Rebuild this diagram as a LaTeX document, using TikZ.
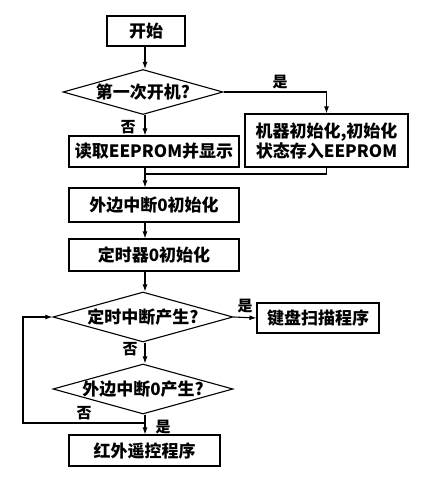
\documentclass[tikz,border=0pt]{standalone}
\usepackage{fontspec}
\setmainfont{Noto Sans CJK SC}
\usetikzlibrary{shapes.geometric,arrows.meta}
\tikzstyle{proc}=[draw,shape=rectangle,inner sep=0pt,font=\fontsize{17}{20}\selectfont\bfseries,align=center]
\tikzstyle{ask}=[draw,shape=diamond,inner sep=0pt,text height=14pt,text depth=2pt,font=\fontsize{17}{20}\selectfont\bfseries]
\tikzstyle{lbl}=[inner sep=0pt,font=\fontsize{15}{18}\selectfont\bfseries]

\begin{document}
\begin{tikzpicture}[x=1pt,y=-1pt,line width=1.1pt,>={Latex[length=7pt,width=5pt]}]
\useasboundingbox (0,0) rectangle (430,482);
\node[proc, minimum width=78pt, minimum height=30pt] at (146,31) (Start) {开始};
\node[ask, aspect=3.55, minimum width=160pt, minimum height=45pt] at (143,92) (Ask0) {第一次开机?};
\node[proc, minimum width=170pt, minimum height=31pt] at (154,151.5) (Read) {读取EEPROM并显示};
\node[proc, minimum width=163pt, minimum height=53pt] at (326.5,140.5) (Init) {机器初始化,初始化\\状态存入EEPROM};
\node[proc, minimum width=170pt, minimum height=34pt] at (154,205) (ExtInit) {外边中断0初始化};
\node[proc, minimum width=170pt, minimum height=32pt] at (154,255) (TimerInit) {定时器0初始化};
\node[ask, aspect=3.6, minimum width=180pt, minimum height=50pt] at (143,317) (Ask1) {定时中断产生?};
\node[proc, minimum width=122pt, minimum height=30pt] at (318,318) (KeyScan) {键盘扫描程序};
\node[ask, aspect=3.6, minimum width=180pt, minimum height=50pt] at (143,389) (Ask2) {外边中断0产生?};
\node[proc, minimum width=151pt, minimum height=31pt] at (144.5,450.5) (IrProg) {红外遥控程序};
\coordinate (Merge) at (145,174);
\coordinate (Back) at (145,423);
\coordinate (Loop) at (23,423);
\node[lbl] at (280,82) (Yes0) {是};
\node[lbl] at (128,127) (No0) {否};
\node[lbl] at (245,306) (Yes1) {是};
\node[lbl] at (130,349) (No1) {否};
\node[lbl] at (84,413) (No2) {否};
\node[lbl] at (163,427) (Yes2) {是};
\draw[->] (Start.south -| Merge) -- (Ask0.north -| Merge);
\draw[->] (Ask0.south -| Merge) -- (Read.north -| Merge);
\draw[->] (Ask0.east) -| (Init.north);
\draw (Init.south) |- (Merge);
\draw[->] (Read.south -| Merge) -- (ExtInit.north -| Merge);
\draw[->] (ExtInit.south -| Merge) -- (TimerInit.north -| Merge);
\draw[->] (TimerInit.south -| Merge) -- (Ask1.north -| Merge);
\draw[->] (Ask1.east) -- (KeyScan.west);
\draw[->] (Ask1.south -| Merge) -- (Ask2.north -| Merge);
\draw[->] (Ask2.south -| Merge) -- (IrProg.north -| Merge);
\draw[->] (Back) -- (Loop) |- (Ask1.west);
\end{tikzpicture}
\end{document}
